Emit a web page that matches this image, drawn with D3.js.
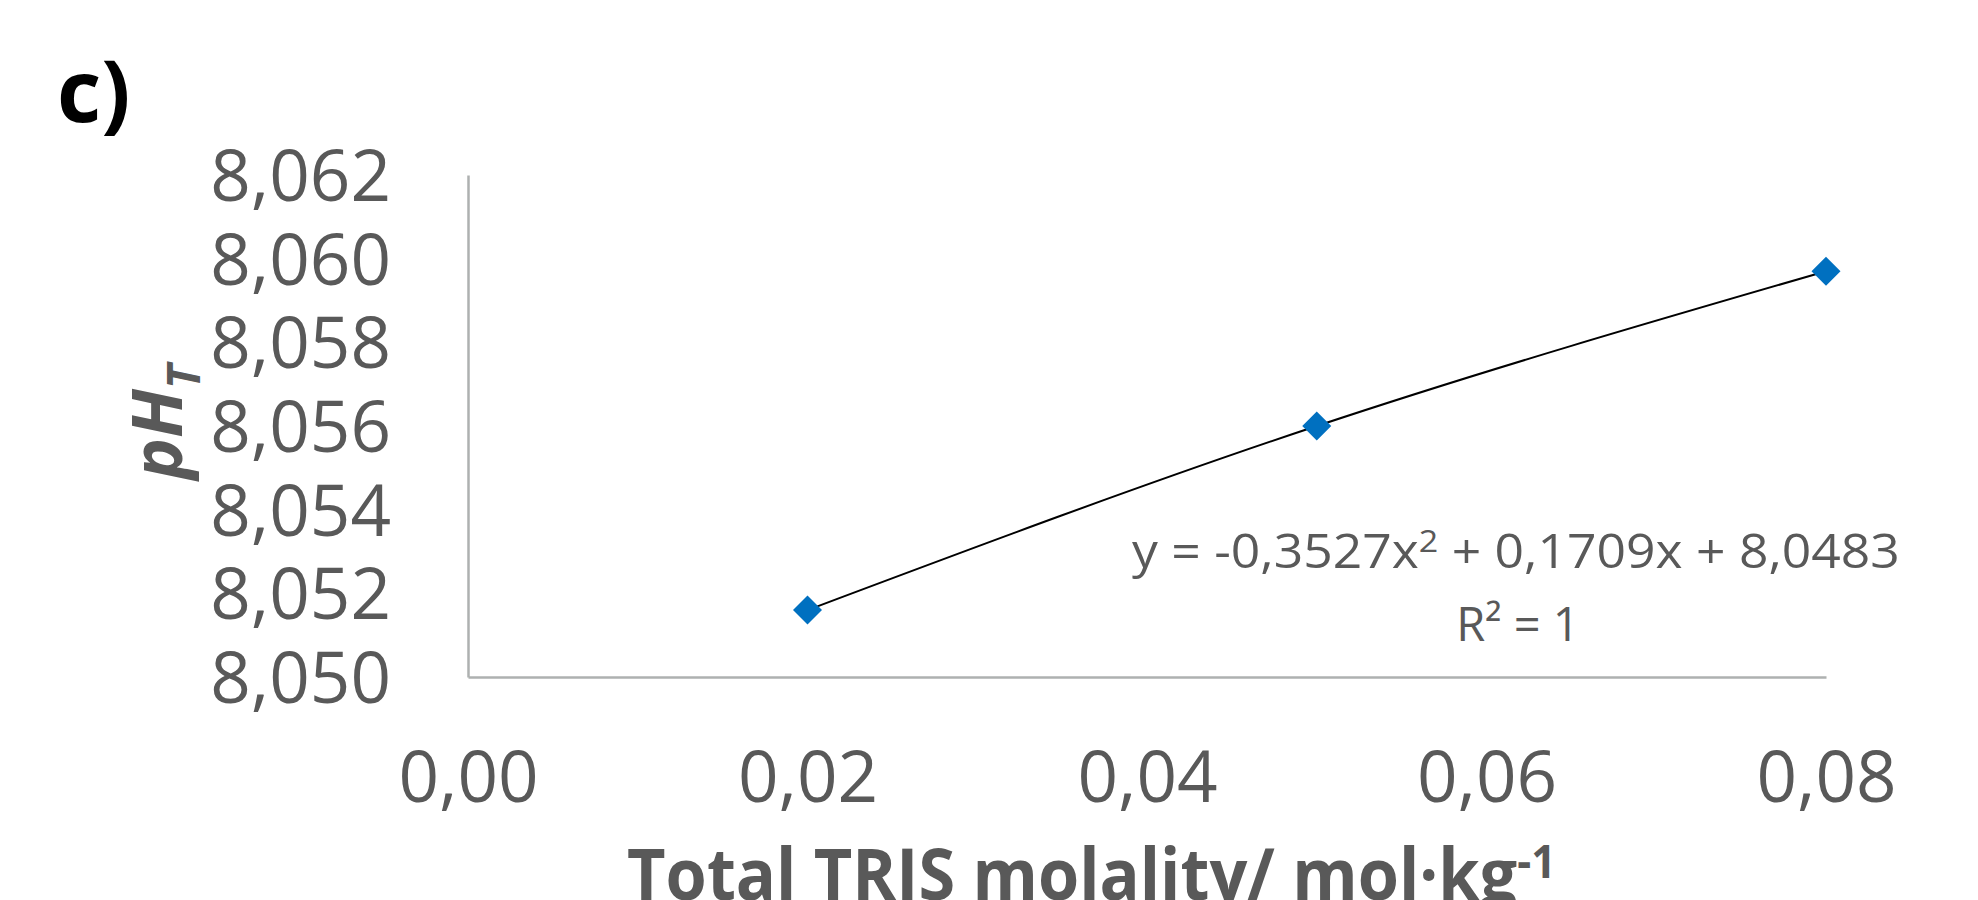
<!DOCTYPE html>
<html>
<head>
<meta charset="utf-8">
<script src="https://cdn.jsdelivr.net/npm/d3@7/dist/d3.min.js"></script>
<style>
    body { margin: 0; background: #fff; }
    svg { display: block; }
    text { font-family: "Open Sans", "Noto Sans", sans-serif; }
</style>
</head>
<body>
<div id="chart"></div>
<script>
// data
const molality = [0.02, 0.05, 0.08];
const phT = [8.0516, 8.0560, 8.0597];
const xTicks = [0, 0.02, 0.04, 0.06, 0.08];
const yTicks = [8.050, 8.052, 8.054, 8.056, 8.058, 8.060, 8.062];
const panelLabel = 'c)';
const xTitle = 'Total TRIS molality/ mol\u00b7kg';
const xTitleSup = '-1';
const eqParts = ['y = -0,3527x', '2', ' + 0,1709x + 8,0483'];
const r2Label = 'R\u00b2 = 1';

const width = 1978, height = 900;
const gray = '#595959';
const axisGray = '#AEB1B0';

const svg = d3.select('#chart').append('svg')
    .attr('width', width)
    .attr('height', height);

const x = d3.scaleLinear().domain([0, 0.08]).range([468, 1826]);
const y = d3.scaleLinear().domain([8.050, 8.062]).range([677, 175]);

const comma = f => v => f(v).replace('.', ',');

// y axis
const yAxis = svg.append('g')
    .attr('transform', 'translate(' + x(0) + ',0)')
    .call(d3.axisLeft(y).tickValues(yTicks).tickSize(0).tickSizeOuter(0)
        .tickPadding(77).tickFormat(comma(d3.format('.3f'))));

// x axis
const xAxis = svg.append('g')
    .attr('transform', 'translate(0,' + y(8.050) + ')')
    .call(d3.axisBottom(x).tickValues(xTicks).tickSize(0).tickSizeOuter(0)
        .tickFormat(comma(d3.format('.2f'))));

[yAxis, xAxis].forEach(function(g) {
    g.select('.domain').attr('stroke', axisGray).attr('stroke-width', 2.5);
    g.selectAll('text')
        .attr('fill', gray)
        .style('font-size', '71px')
        .style('font-family', '"Open Sans", sans-serif');
});
yAxis.selectAll('text').attr('dy', '0.36em');
xAxis.selectAll('text').attr('dy', null).attr('y', 125);

// trendline (polynomial, order 2) drawn through the points
const line = d3.line()
    .x(function(d, i) { return x(molality[i]); })
    .y(function(d) { return y(d); })
    .curve(d3.curveNatural);

svg.append('path')
    .datum(phT)
    .attr('d', line)
    .attr('fill', 'none')
    .attr('stroke', '#000')
    .attr('stroke-width', 2);

// diamond markers
svg.selectAll('.pt')
    .data(phT)
    .enter()
    .append('path')
    .attr('class', 'pt')
    .attr('d', d3.symbol(d3.symbolSquare, 420))
    .attr('transform', function(d, i) { return 'translate(' + x(molality[i]) + ',' + y(d) + ') rotate(45)'; })
    .attr('fill', '#0070C0');

// squeeze a text block horizontally to a target width (Calibri is narrower)
function squeeze(g, left, baseline, targetW) {
    const bb = g.node().getBBox();
    g.attr('transform', 'translate(' + left + ',' + baseline + ') scale(' + (targetW / bb.width) + ',1) translate(' + (-bb.x) + ',0)');
}

// equation
const eqG = svg.append('g');
const eq = eqG.append('text').attr('fill', gray).style('font-size', '47px');
eq.append('tspan').text(eqParts[0]);
eq.append('tspan').attr('dy', -16).style('font-size', '31px').text(eqParts[1]);
eq.append('tspan').attr('dy', 16).text(eqParts[2]);
squeeze(eqG, 1132, 568, 768);

svg.append('text')
    .attr('x', 1518)
    .attr('y', 641)
    .attr('text-anchor', 'middle')
    .attr('fill', gray)
    .style('font-size', '47px')
    .text(r2Label);

// x title
const xtG = svg.append('g');
const xt = xtG.append('text').attr('fill', gray).style('font-size', '71px').style('font-weight', 700);
xt.append('tspan').text(xTitle);
xt.append('tspan').attr('dy', -22).style('font-size', '46px').text(xTitleSup);
squeeze(xtG, 627, 900, 929);

// y title, rotated
const yt = svg.append('text')
    .attr('transform', 'translate(182,422) rotate(-90)')
    .attr('text-anchor', 'middle')
    .attr('fill', gray)
    .style('font-size', '70px')
    .style('font-weight', 700)
    .style('font-style', 'italic');
yt.append('tspan').text('pH');
yt.append('tspan').attr('dy', 18).style('font-size', '46px').text('T');

// panel label
svg.append('text')
    .attr('x', 57)
    .attr('y', 122)
    .attr('fill', '#000')
    .style('font-size', '86px')
    .style('font-weight', 700)
    .text(panelLabel);
</script>
</body>
</html>
